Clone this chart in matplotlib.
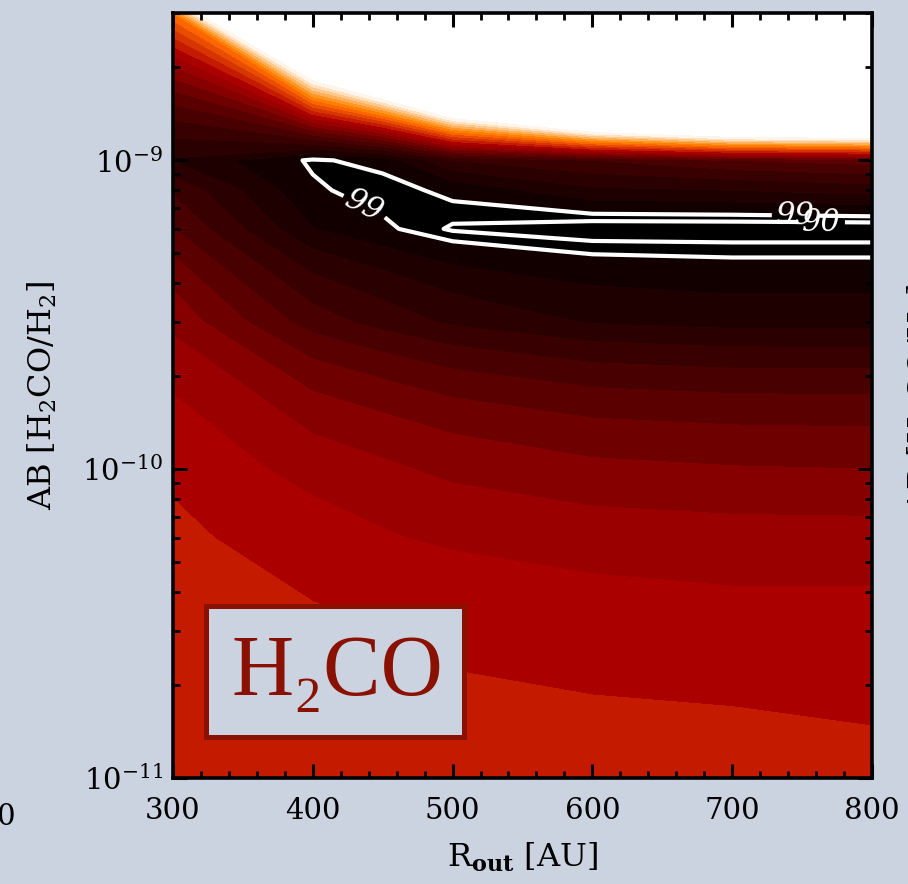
import numpy as np
import matplotlib
matplotlib.use("Agg")
import matplotlib.pyplot as plt
from matplotlib.patches import Rectangle
from matplotlib.ticker import MultipleLocator

plt.rcParams['font.family'] = ['DejaVu Serif']
plt.rcParams['mathtext.fontset'] = 'dejavuserif'

# model grid: outer radius [AU] and H2CO abundance
r_out = [300, 400, 450, 500, 600, 700, 800]
abundance = [1e-11, 3e-11, 6e-11, 1e-10, 3e-10, 6e-10, 8e-10, 1e-9, 3e-9]

# fit quality at each abundance node (bottom -> top), one list per R_out
chi_r300 = [11.8, 11.5, 11.22, 10.78, 8.7, 6.05, 4.8, 2.9, 15.0]
chi_r400 = [11.6, 11.17, 10.47, 9.62, 5.5, 2.03, 1.15, 0.85, 50.6]
chi_r450 = [11.4, 11.0, 10.1, 9.2, 4.6, 1.18, 0.6, 1.35, 70.0]
chi_r500 = [11.16, 10.9, 9.8, 8.74, 3.8, 0.4, 1.27, 4.0, 97.0]
chi_r600 = [11.33, 10.56, 9.5, 8.24, 2.9, 0.0, 2.8, 5.0, 143.0]
chi_r700 = [11.32, 10.41, 9.37, 8.07, 2.6, 0.0, 3.0, 6.0, 167.0]
chi_r800 = [11.18, 10.42, 9.35, 8.0, 2.6, 0.0, 3.4, 6.5, 170.0]

# confidence contours
conf_90 = 0.5
conf_99 = 1.0

fill_levels = [-1] + list(range(1, 22))
band_colors = ['#000000', '#120000', '#1e0000', '#2b0000', '#390000', '#480000',
               '#5a0000', '#6e0000', '#860000', '#9b0000', '#ab0000', '#c41a00',
               '#d63500', '#e94d00', '#fc6600', '#ff7f00', '#ff9727', '#ffb05a',
               '#ffc88d', '#ffe1c0', '#fff5ea']

bg = '#cbd3e0'
dark_red = '#8a1000'

Z = np.array([chi_r300, chi_r400, chi_r450, chi_r500, chi_r600, chi_r700, chi_r800]).T
X, Y = np.meshgrid(r_out, abundance)

fig = plt.figure(figsize=(9.08, 8.84), dpi=100, facecolor=bg)
ax = fig.add_axes([0.1905, 0.1199, 0.7698, 0.8654])
ax.set_facecolor('white')

ax.contourf(X, Y, Z, levels=fill_levels, colors=band_colors)
cs90 = ax.contour(X, Y, Z, levels=[conf_90], colors='white', linewidths=3)
cs99 = ax.contour(X, Y, Z, levels=[conf_99], colors='white', linewidths=3)

ax.set_yscale('log')
ax.set_xlim(300, 800)
ax.set_ylim(1e-11, 3e-9)

lab99 = ax.clabel(cs99, fmt={conf_99: '99'}, manual=[(437, 7.1e-10), (745, 6.65e-10)],
                  inline=True, inline_spacing=4, fontsize=22, colors='white')
lab90 = ax.clabel(cs90, fmt={conf_90: '90'}, manual=[(764, 6.33e-10)],
                  inline=True, inline_spacing=4, fontsize=22, colors='white')
for t in list(lab99) + list(lab90):
    t.set_fontstyle('italic')
    t.set_fontweight('light')

ax.xaxis.set_major_locator(MultipleLocator(100))
ax.xaxis.set_minor_locator(MultipleLocator(20))
ax.tick_params(which='both', direction='in', top=True, right=True, colors='black')
ax.tick_params(which='major', length=10, width=2.2, labelsize=21)
ax.tick_params(which='minor', length=5, width=2)
ax.tick_params(axis='x', pad=14)
ax.tick_params(axis='y', pad=7)
for s in ax.spines.values():
    s.set_linewidth(2.6)

ax.set_xlabel(r'R$_{\mathbf{out}}$ [AU]', fontsize=23, labelpad=11)
ax.set_ylabel(r'AB [H$_2$CO/H$_2$]', fontsize=23, labelpad=17)

# molecule tag
ax.add_patch(Rectangle((0.0479, 0.0542), 0.369, 0.170, transform=ax.transAxes,
                       facecolor=bg, edgecolor=dark_red, linewidth=3.6, zorder=5))
ax.text(0.2346, 0.135, 'H₂CO', transform=ax.transAxes, ha='center', va='center',
        fontsize=62, color=dark_red, family=['Liberation Serif', 'DejaVu Serif'], zorder=6)

# edges of the neighbouring panels
fig.text(16 / 908, 1 - 817 / 884, '800', ha='right', va='center', fontsize=21)
fig.text(1.016, 1 - 398 / 884, r'AB [H$_2$CO/H$_2$]', rotation=90,
         ha='center', va='center', fontsize=23)

fig.savefig('out.png', dpi=100, facecolor=bg)
